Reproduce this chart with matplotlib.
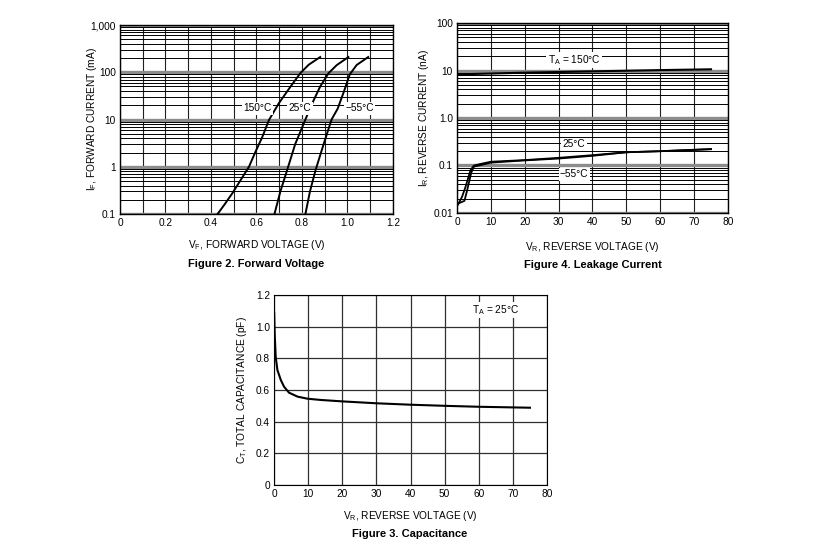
import numpy as np
import matplotlib.pyplot as plt
from matplotlib.ticker import FixedLocator, LogLocator, NullFormatter

plt.rcParams['font.family'] = ['Liberation Sans', 'DejaVu Sans']
plt.rcParams['mathtext.fontset'] = 'custom'
plt.rcParams['mathtext.rm'] = 'Liberation Sans'

# Figure 2 - forward voltage (V) vs forward current (mA)
vf_150 = [0.429, 0.46, 0.495, 0.53, 0.567, 0.593, 0.625, 0.655, 0.698, 0.75, 0.793, 0.83, 0.88]
if_150 = [0.1, 0.16, 0.28, 0.52, 1.0, 1.95, 4.2, 9.8, 22, 50, 96, 145, 210]
vf_25 = [0.679, 0.705, 0.735, 0.77, 0.815, 0.845, 0.88, 0.917, 0.953, 1.004]
if_25 = [0.1, 0.3, 0.86, 3.0, 10, 22, 50, 96, 142, 210]
vf_m55 = [0.815, 0.835, 0.86, 0.895, 0.93, 0.957, 0.985, 1.01, 1.04, 1.091]
if_m55 = [0.1, 0.3, 0.86, 3.0, 10, 17, 40, 90, 142, 210]

# Figure 4 - reverse voltage (V) vs leakage current (nA)
vr_150 = [0.5, 20, 40, 60, 75]
ir_150 = [8.3, 9.0, 9.6, 10.2, 10.6]
vr_25 = [0.3, 1.5, 2.5, 4.0, 5, 7, 10, 20, 30, 40, 50, 60, 75]
ir_25 = [0.015, 0.022, 0.035, 0.08, 0.1, 0.108, 0.12, 0.13, 0.145, 0.165, 0.19, 0.2, 0.22]
vr_m55 = [0.5, 2.2, 3, 4.2, 5, 6.5, 10, 20, 30, 40, 50, 60, 75]
ir_m55 = [0.016, 0.018, 0.03, 0.07, 0.095, 0.1, 0.115, 0.128, 0.14, 0.16, 0.19, 0.2, 0.222]

# Figure 3 - reverse voltage (V) vs capacitance (pF)
vr_c = [0.05, 0.2, 0.5, 1.0, 2.0, 2.94, 4.4, 6.9, 9.8, 13.7, 20, 30, 40, 50, 60, 75]
ct = [1.088, 0.958, 0.81, 0.726, 0.663, 0.621, 0.583, 0.558, 0.545, 0.537, 0.528, 0.516, 0.507, 0.50, 0.494, 0.488]

fs = 7.3
box = dict(facecolor='white', edgecolor='none', pad=1.0)

fig = plt.figure(figsize=(8.14, 5.57), dpi=100)


def style_log(ax):
    ax.set_yscale('log')
    ax.yaxis.set_minor_locator(LogLocator(base=10, subs=np.arange(2, 10)))
    ax.yaxis.set_minor_formatter(NullFormatter())
    ax.grid(True, which='major', axis='y', color='#8c8c8c', lw=2.4)
    ax.grid(True, which='minor', axis='y', color='black', lw=0.7)
    ax.grid(True, which='major', axis='x', color='#202020', lw=0.8)
    ax.tick_params(which='both', length=0, labelsize=fs, pad=3)
    for s in ax.spines.values():
        s.set_linewidth(1.0)
    ax.set_axisbelow(True)


# Figure 2
ax1 = fig.add_axes([0.1474, 0.6158, 0.3354, 0.3393])
style_log(ax1)
ax1.plot(vf_150, if_150, 'k-', lw=1.4)
ax1.plot(vf_25, if_25, 'k-', lw=1.4)
ax1.plot(vf_m55, if_m55, 'k-', lw=1.4)
ax1.set_xlim(0, 1.2)
ax1.set_ylim(0.1, 1000)
ax1.xaxis.set_major_locator(FixedLocator(np.arange(0, 1.21, 0.1)))
ax1.set_xticklabels(['0', '', '0.2', '', '0.4', '', '0.6', '', '0.8', '', '1.0', '', '1.2'])
ax1.yaxis.set_major_locator(FixedLocator([0.1, 1, 10, 100, 1000]))
ax1.set_yticklabels(['0.1', '1', '10', '100', '1,000'])
ax1.text(0.603, 17.3, '150°C', fontsize=fs, ha='center', va='center', bbox=box)
ax1.text(0.791, 17.3, '25°C', fontsize=fs, ha='center', va='center', bbox=box)
ax1.text(1.052, 17.3, '\u221255°C', fontsize=fs, ha='center', va='center', bbox=box)
ax1.set_xlabel(r'V$_\mathregular{F}$, FORWARD VOLTAGE (V)', fontsize=fs)
ax1.set_ylabel(r'I$_\mathregular{F}$, FORWARD CURRENT (mA)', fontsize=fs)
ax1.xaxis.set_label_coords(0.5, -0.126)
ax1.yaxis.set_label_coords(-0.077, 0.5)
fig.text(0.315, 0.526, 'Figure 2. Forward Voltage', fontsize=8, weight='bold', ha='center', va='center')

# Figure 4
ax2 = fig.add_axes([0.5614, 0.6176, 0.3329, 0.3411])
style_log(ax2)
ax2.plot(vr_150, ir_150, 'k-', lw=1.5)
ax2.plot(vr_25, ir_25, 'k-', lw=1.3)
ax2.plot(vr_m55, ir_m55, 'k-', lw=1.3)
ax2.set_xlim(0, 80)
ax2.set_ylim(0.01, 100)
ax2.xaxis.set_major_locator(FixedLocator(np.arange(0, 81, 10)))
ax2.yaxis.set_major_locator(FixedLocator([0.01, 0.1, 1, 10, 100]))
ax2.set_yticklabels(['0.01', '0.1', '1.0', '10', '100'])
ax2.text(34.6, 16.5, r'T$_\mathregular{A}$ = 150°C', fontsize=fs, ha='center', va='center', bbox=box)
ax2.text(34.6, 0.277, '25°C', fontsize=fs, ha='center', va='center', bbox=box)
ax2.text(34.6, 0.065, '\u221255°C', fontsize=fs, ha='center', va='center', bbox=box)
ax2.set_xlabel(r'V$_\mathregular{R}$, REVERSE VOLTAGE (V)', fontsize=fs)
ax2.set_ylabel(r'I$_\mathregular{R}$, REVERSE CURRENT (nA)', fontsize=fs)
ax2.xaxis.set_label_coords(0.5, -0.140)
ax2.yaxis.set_label_coords(-0.097, 0.5)
fig.text(0.728, 0.524, 'Figure 4. Leakage Current', fontsize=8, weight='bold', ha='center', va='center')

# Figure 3
ax3 = fig.add_axes([0.3366, 0.1293, 0.3354, 0.3411])
ax3.plot(vr_c, ct, 'k-', lw=1.5)
ax3.set_xlim(0, 80)
ax3.set_ylim(0, 1.2)
ax3.xaxis.set_major_locator(FixedLocator(np.arange(0, 81, 10)))
ax3.yaxis.set_major_locator(FixedLocator(np.arange(0, 1.21, 0.2)))
ax3.set_yticklabels(['0', '0.2', '0.4', '0.6', '0.8', '1.0', '1.2'])
ax3.grid(True, color='#303030', lw=0.9)
ax3.set_axisbelow(True)
ax3.tick_params(length=0, labelsize=fs, pad=3)
ax3.text(65, 1.105, r'T$_\mathregular{A}$ = 25°C', fontsize=fs, ha='center', va='center', bbox=box)
ax3.set_xlabel(r'V$_\mathregular{R}$, REVERSE VOLTAGE (V)', fontsize=fs)
ax3.set_ylabel(r'C$_\mathregular{T}$, TOTAL CAPACITANCE (pF)', fontsize=fs)
ax3.xaxis.set_label_coords(0.5, -0.126)
ax3.yaxis.set_label_coords(-0.090, 0.5)
fig.text(0.5037, 0.0407, 'Figure 3. Capacitance', fontsize=8, weight='bold', ha='center', va='center')

fig.savefig('out.png', dpi=100)
